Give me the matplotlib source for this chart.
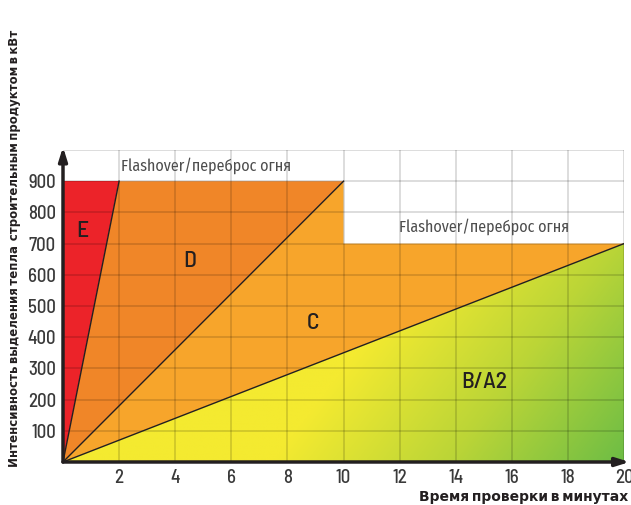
import numpy as np
import matplotlib
matplotlib.use("Agg")
import matplotlib.pyplot as plt
from matplotlib.patches import Polygon
from matplotlib.colors import LinearSegmentedColormap

# ---- data ----
x_ticks = [2, 4, 6, 8, 10, 12, 14, 16, 18, 20]
y_ticks = [100, 200, 300, 400, 500, 600, 700, 800, 900]
flashover_E_D = 900      # kW limit for classes E, D
flashover_C = 700        # kW limit for class C
t_E = 2                  # minutes to reach 900 kW (E/D boundary)
t_D = 10                 # minutes to reach 900 kW (D/C boundary)
t_C = 20                 # minutes to reach 700 kW (C/B boundary)
class_labels = ["E", "D", "C", "B/A2"]
label_pos = [(0.7, 740), (4.5, 645), (8.9, 445), (15.0, 255)]
flash_text = "Flashover/переброс огня"
flash_pos = [(5.1, 950), (15.0, 755)]
ylabel = "Интенсивность выделения тепла  строительным продуктом в кВт"
xlabel = "Время проверки в минутах"

din = ["Barlow Semi Condensed", "DejaVu Sans"]
din_c = ["Barlow Condensed", "DejaVu Sans"]
light = ["Fira Sans Condensed", "DejaVu Sans"]

fig = plt.figure(figsize=(6.31, 5.05), dpi=100)
ax = fig.add_axes([63/631, 43/505, 561/631, 312/505])
ax.set_xlim(0, 20)
ax.set_ylim(0, 1000)
for s in ax.spines.values():
    s.set_visible(False)

# regions
ax.add_patch(Polygon([(0, 0), (0, flashover_E_D), (t_E, flashover_E_D)],
                     closed=True, fc="#EC2329", ec="none", zorder=1))
ax.add_patch(Polygon([(0, 0), (t_E, flashover_E_D), (t_D, flashover_E_D)],
                     closed=True, fc="#F08628", ec="none", zorder=1))
ax.add_patch(Polygon([(0, 0), (t_D, flashover_E_D), (t_D, flashover_C),
                      (t_C, flashover_C)],
                     closed=True, fc="#F7A52B", ec="none", zorder=1))
tri = Polygon([(0, 0), (t_C, flashover_C), (t_C, 0)], closed=True,
              fc="none", ec="none", zorder=1)
ax.add_patch(tri)

# gradient for B/A2
xs = np.linspace(0, 20, 400)
ys = np.linspace(0, 700, 300)
X, Y = np.meshgrid(xs, ys)
px = X * 28.05
pyd = (700 - Y) * 0.311
S = 218 * px + 168 * pyd
T = np.clip((S - 82000) / (159000 - 82000), 0, 1)
cmap = LinearSegmentedColormap.from_list("yg", ["#F4EA30", "#BBD537", "#6DBD45"])
im = ax.imshow(T, extent=[0, 20, 0, 700], origin="lower", cmap=cmap,
               aspect="auto", zorder=1, interpolation="bilinear")
im.set_clip_path(tri)

# grid
for gx in x_ticks:
    ax.plot([gx, gx], [0, 1000], color=(0, 0, 0, 0.15), lw=1.3, zorder=2)
for gy in y_ticks + [1000]:
    ax.plot([0, 20], [gy, gy], color=(0, 0, 0, 0.15), lw=1.3, zorder=2)

# boundary lines
for tx, ty in [(t_E, flashover_E_D), (t_D, flashover_E_D), (t_C, flashover_C)]:
    ax.plot([0, tx], [0, ty], color="#231F20", lw=1.0, zorder=3)

# axes arrows
ax.annotate("", xy=(20.2, 0), xytext=(0, 0), annotation_clip=False,
            arrowprops=dict(arrowstyle="-|>,head_length=0.8,head_width=0.25",
                            lw=2.5, color="#231F20", shrinkA=0, shrinkB=0), zorder=5)
ax.annotate("", xy=(0, 1010), xytext=(0, 0), annotation_clip=False,
            arrowprops=dict(arrowstyle="-|>,head_length=0.8,head_width=0.25",
                            lw=2.5, color="#231F20", shrinkA=0, shrinkB=0), zorder=5)

# ticks
ax.set_xticks(x_ticks)
ax.set_xticklabels([str(v) for v in x_ticks], family=din, fontsize=13.5,
                   fontweight="medium", color="#3a3a3a")
ax.set_yticks(y_ticks)
ax.set_yticklabels([str(v) for v in y_ticks], family=din, fontsize=13.5,
                   fontweight="medium", color="#3a3a3a")
ax.tick_params(length=0, pad=5)

# labels
for lab, (lx, ly) in zip(class_labels, label_pos):
    ax.text(lx, ly, lab, ha="center", va="center", fontsize=17,
            family=din, fontweight="medium", color="#231F20", zorder=4)
for (fx, fy) in flash_pos:
    ax.text(fx, fy, flash_text, ha="center", va="center", fontsize=11.5,
            family=light, fontweight="normal", color="#4d4d4d", zorder=4)

fig.text(628/631, 1 - 497/505, xlabel, ha="right", va="center",
         fontsize=10, fontweight="bold", family=din_c, color="#231F20")
fig.text(15/631, 1 - 248/505, ylabel, ha="center", va="center", rotation=90,
         fontsize=8.5, fontweight="bold", family=din_c, color="#231F20")

fig.savefig("out.png", dpi=100)
